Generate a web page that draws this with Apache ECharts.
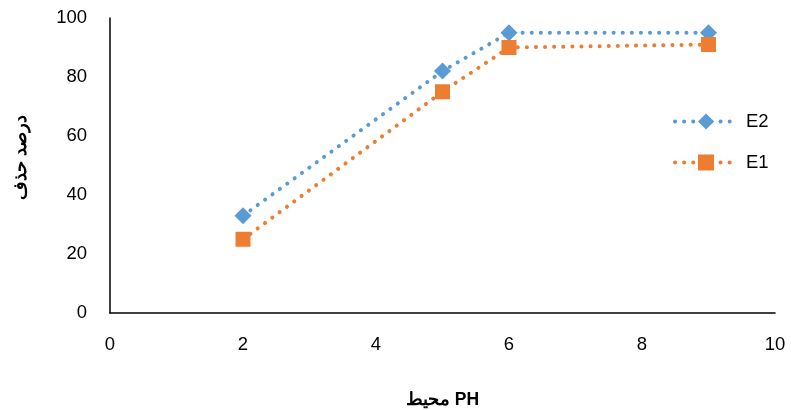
<!DOCTYPE html>
<html><head><meta charset="utf-8">
<script src="https://cdn.jsdelivr.net/npm/echarts@6/dist/echarts.min.js"></script>
<style>html,body{margin:0;padding:0;background:#fff}#c{width:791px;height:410px}</style>
</head><body><div id="c"></div>
<script>
const xValues = [2, 5, 6, 9];
const e2Values = [33, 82, 95, 95];
const e1Values = [25, 75, 90, 91];
const xName = 'محیط PH';
const yName = 'درصد حذف';

const chart = echarts.init(document.getElementById('c'));
const font = '"Liberation Sans", "Noto Sans", sans-serif';
const dots = [0.1, 9];
chart.setOption({
  animation: false,
  textStyle: {fontFamily: font},
  grid: {left: 110, right: 16, top: 18, bottom: 97, outerBoundsMode: 'none', containLabel: false},
  legend: {
    orient: 'vertical', left: 668, top: 107, itemGap: 22,
    itemWidth: 62, itemHeight: 20,
    lineStyle: {width: 4, type: dots, cap: 'round'},
    textStyle: {fontSize: 18.5, color: '#000', fontFamily: font, padding: [0, 0, 0, 4]},
    data: ['E2', 'E1']
  },
  xAxis: {
    type: 'value', min: 0, max: 10, interval: 2,
    name: xName, nameLocation: 'middle', nameGap: 78,
    nameTextStyle: {fontSize: 17.5, fontWeight: 'bold', color: '#000', fontFamily: font},
    axisLine: {show: true, lineStyle: {color: '#000', width: 1.5}},
    axisTick: {show: false},
    splitLine: {show: false},
    axisLabel: {fontSize: 18.5, color: '#000', margin: 22}
  },
  yAxis: {
    type: 'value', min: 0, max: 100, interval: 20,
    name: yName, nameLocation: 'middle', nameGap: 80,
    nameTextStyle: {fontSize: 18, fontWeight: 'bold', color: '#000', fontFamily: font, padding: [0, 0, 0, 16]},
    axisLine: {show: true, lineStyle: {color: '#000', width: 1.5}},
    axisTick: {show: false},
    splitLine: {show: false},
    axisLabel: {fontSize: 18.5, color: '#000', margin: 23}
  },
  series: [
    {
      name: 'E2', type: 'line',
      data: xValues.map((x, i) => [x, e2Values[i]]),
      symbol: 'diamond', symbolSize: 17,
      itemStyle: {color: '#5B9BD5'},
      lineStyle: {type: dots, cap: 'round', width: 4, color: '#5B9BD5'}
    },
    {
      name: 'E1', type: 'line',
      data: xValues.map((x, i) => [x, e1Values[i]]),
      symbol: 'rect', symbolSize: 15,
      itemStyle: {color: '#ED7D31'},
      lineStyle: {type: dots, cap: 'round', width: 4, color: '#ED7D31'}
    }
  ]
});
</script></body></html>
